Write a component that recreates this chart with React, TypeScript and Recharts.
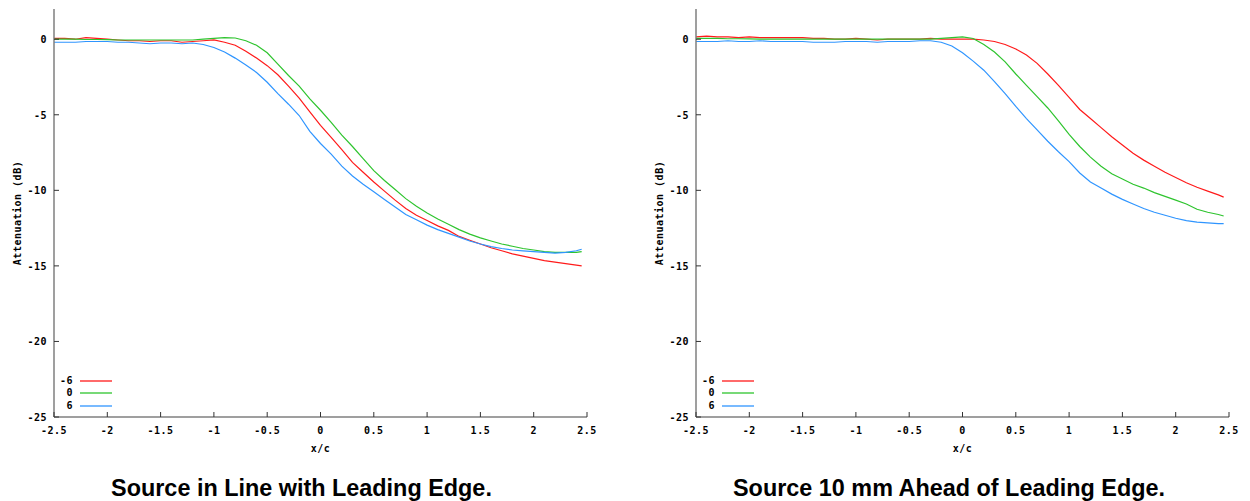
import { LineChart, Line, XAxis, YAxis, Legend, Label } from 'recharts';

// x/c positions shared by every curve
const xPos = [
  -2.5, -2.4, -2.3, -2.2, -2.1, -2.0, -1.9, -1.8, -1.7, -1.6,
  -1.5, -1.4, -1.3, -1.2, -1.1, -1.0, -0.9, -0.8, -0.7, -0.6,
  -0.5, -0.4, -0.3, -0.2, -0.1, 0.0, 0.1, 0.2, 0.3, 0.4,
  0.5, 0.6, 0.7, 0.8, 0.9, 1.0, 1.1, 1.2, 1.3, 1.4,
  1.5, 1.6, 1.7, 1.8, 1.9, 2.0, 2.1, 2.2, 2.3, 2.4, 2.45,
];

// Source in line with leading edge
const inLineM6 = [
  0.05, 0.05, 0.0, 0.1, 0.05, 0.0, -0.05, -0.1, -0.1, -0.15,
  -0.1, -0.1, -0.2, -0.15, -0.1, -0.05, -0.2, -0.4, -0.8, -1.25,
  -1.75, -2.35, -3.1, -3.9, -4.8, -5.7, -6.5, -7.3, -8.15, -8.8,
  -9.45, -10.05, -10.65, -11.2, -11.65, -12.0, -12.35, -12.65, -13.05, -13.3,
  -13.55, -13.8, -14.0, -14.2, -14.35, -14.5, -14.65, -14.75, -14.85, -14.95, -15.0,
];
const inLine0 = [
  0.0, 0.0, 0.0, -0.02, -0.02, -0.03, -0.05, -0.05, -0.05, -0.05,
  -0.05, -0.05, -0.05, -0.05, 0.0, 0.05, 0.1, 0.08, -0.1, -0.4,
  -0.9, -1.65, -2.4, -3.1, -3.95, -4.7, -5.5, -6.35, -7.1, -7.9,
  -8.7, -9.35, -9.95, -10.55, -11.05, -11.5, -11.9, -12.25, -12.6, -12.9,
  -13.15, -13.35, -13.55, -13.7, -13.85, -13.95, -14.05, -14.1, -14.1, -14.1, -14.05,
];
const inLine6 = [
  -0.2, -0.2, -0.2, -0.15, -0.15, -0.15, -0.2, -0.2, -0.25, -0.3,
  -0.25, -0.25, -0.3, -0.25, -0.35, -0.55, -0.85, -1.25, -1.7, -2.2,
  -2.85, -3.6, -4.3, -5.05, -6.1, -6.9, -7.6, -8.4, -9.05, -9.6,
  -10.1, -10.6, -11.1, -11.6, -11.95, -12.3, -12.6, -12.85, -13.1, -13.35,
  -13.55, -13.72, -13.85, -13.95, -14.0, -14.05, -14.1, -14.15, -14.1, -14.0, -13.9,
];

// Source 10 mm ahead of leading edge
const aheadM6 = [
  0.15, 0.2, 0.15, 0.15, 0.1, 0.15, 0.1, 0.1, 0.1, 0.1,
  0.1, 0.05, 0.05, 0.0, 0.0, 0.05, 0.0, -0.05, 0.0, 0.0,
  0.0, 0.0, 0.05, 0.0, 0.0, 0.0, 0.0, -0.05, -0.15, -0.35,
  -0.65, -1.05, -1.6, -2.3, -3.05, -3.85, -4.65, -5.25, -5.85, -6.45,
  -7.0, -7.55, -8.0, -8.4, -8.8, -9.15, -9.5, -9.8, -10.05, -10.3, -10.45,
];
const ahead0 = [
  0.05, 0.05, 0.05, 0.03, 0.03, 0.02, 0.0, 0.0, 0.0, 0.0,
  0.0, 0.0, 0.0, 0.0, 0.0, 0.0, 0.0, 0.0, 0.0, 0.0,
  0.0, 0.0, 0.0, 0.05, 0.1, 0.15, 0.05, -0.35, -0.85, -1.5,
  -2.3, -3.05, -3.8, -4.55, -5.4, -6.3, -7.1, -7.8, -8.4, -8.9,
  -9.25, -9.6, -9.85, -10.15, -10.4, -10.65, -10.9, -11.25, -11.45, -11.6, -11.7,
];
const ahead6 = [
  -0.15, -0.15, -0.15, -0.1, -0.15, -0.15, -0.1, -0.15, -0.15, -0.15,
  -0.15, -0.2, -0.2, -0.2, -0.15, -0.15, -0.15, -0.2, -0.15, -0.15,
  -0.15, -0.1, -0.1, -0.2, -0.45, -0.9, -1.45, -2.05, -2.8, -3.6,
  -4.45, -5.25, -6.0, -6.75, -7.45, -8.1, -8.85, -9.45, -9.85, -10.25,
  -10.6, -10.9, -11.2, -11.45, -11.65, -11.85, -12.0, -12.1, -12.15, -12.2, -12.2,
];

const xTicks = [-2.5, -2, -1.5, -1, -0.5, 0, 0.5, 1, 1.5, 2, 2.5];
const yTicks = [-25, -20, -15, -10, -5, 0];
const seriesNames = ['-6', '0', '6'];
const seriesColors = ['#ff1a1a', '#2ec42e', '#2f95ff'];

const MONO = "'DejaVu Sans Mono', monospace";
const tickText = { fontFamily: MONO, fontSize: 10, fontWeight: 700, fill: '#000', letterSpacing: 0.5 };
const frame = { stroke: '#7f7f7f', strokeWidth: 1.5 };

function BottomTick({ x, y, payload }: any) {
  return (
    <g>
      <line x1={x} x2={x} y1={y} y2={y - 5} stroke="#333" />
      <text x={x} y={y + 17} textAnchor="middle" style={tickText}>{payload.value}</text>
    </g>
  );
}

function TopTick({ x, y }: any) {
  return <line x1={x} x2={x} y1={y} y2={y + 5} stroke="#333" />;
}

function LeftTick({ x, y, payload }: any) {
  return (
    <g>
      <line x1={x} x2={x + 5} y1={y} y2={y} stroke="#333" />
      <text x={x - 7} y={y + 4} textAnchor="end" style={tickText}>{payload.value}</text>
    </g>
  );
}

function RightTick({ x, y }: any) {
  return <line x1={x} x2={x - 5} y1={y} y2={y} stroke="#333" />;
}

function XLabel(props: any) {
  const { x, y, width } = props.viewBox;
  return <text x={x + width / 2} y={y + 35} textAnchor="middle" style={tickText}>x/c</text>;
}

function YLabel(props: any) {
  const { x, y, height } = props.viewBox;
  const cx = x + 17;
  const cy = y + height / 2;
  return (
    <text x={cx} y={cy} transform={`rotate(-90 ${cx} ${cy})`} textAnchor="middle" dominantBaseline="central" style={tickText}>
      Attenuation (dB)
    </text>
  );
}

function LegendBox({ payload }: any) {
  const items = [...(payload || [])].sort((a: any, b: any) => seriesNames.indexOf(a.value) - seriesNames.indexOf(b.value));
  return (
    <div>
      {items.map((e: any) => (
        <div key={e.value} style={{ display: 'flex', alignItems: 'center', height: 12.3 }}>
          <span style={{ width: 15, textAlign: 'right', fontFamily: MONO, fontSize: 10, fontWeight: 700, lineHeight: '12px', letterSpacing: 0.5 }}>
            {e.value}
          </span>
          <svg width={39} height={4} style={{ display: 'block' }}>
            <line x1={7} x2={39} y1={2} y2={2} stroke={e.color} strokeWidth={1.3} />
          </svg>
        </div>
      ))}
    </div>
  );
}

function Panel({ left, title, titleWidth, m6, z0, p6 }: { left: number; title: string; titleWidth: number; m6: number[]; z0: number[]; p6: number[] }) {
  const data = xPos.map((x, i) => ({ x, m6: m6[i], z0: z0[i], p6: p6[i] }));
  const keys = ['m6', 'z0', 'p6'];
  return (
    <div style={{ position: 'absolute', left, top: 0, width: 616, height: 501 }}>
      <LineChart width={600} height={460} data={data} margin={{ top: 9, right: 13, bottom: 0, left: 0 }}>
        <XAxis xAxisId="b" dataKey="x" type="number" domain={[-2.5, 2.5]} ticks={xTicks} interval={0}
          tickSize={0} tickMargin={0} tickLine={false} tick={<BottomTick />} axisLine={frame} height={43}>
          <Label content={XLabel} />
        </XAxis>
        <XAxis xAxisId="t" orientation="top" dataKey="x" type="number" domain={[-2.5, 2.5]} ticks={xTicks} interval={0}
          tickSize={0} tickMargin={0} tickLine={false} tick={<TopTick />} axisLine={frame} height={0} />
        <YAxis yAxisId="l" type="number" domain={[-25, 2]} ticks={yTicks} interval={0}
          tickSize={0} tickMargin={0} tickLine={false} tick={<LeftTick />} axisLine={frame} width={54}>
          <Label content={YLabel} />
        </YAxis>
        <YAxis yAxisId="r" orientation="right" type="number" domain={[-25, 2]} ticks={yTicks} interval={0}
          tickSize={0} tickMargin={0} tickLine={false} tick={<RightTick />} axisLine={frame} width={0} />
        <Legend layout="vertical" align="center" verticalAlign="middle"
          wrapperStyle={{ left: 58, top: 375, width: 70 }} content={<LegendBox />} />
        {keys.map((k, i) => (
          <Line key={k} xAxisId="b" yAxisId="l" type="linear" dataKey={k} name={seriesNames[i]}
            stroke={seriesColors[i]} strokeWidth={1.2} dot={false} isAnimationActive={false} />
        ))}
      </LineChart>
      <div style={{ position: 'absolute', left: 0, top: 476, width: titleWidth, textAlign: 'center', whiteSpace: 'nowrap',
        fontFamily: "'Liberation Sans', Arial, sans-serif", fontWeight: 700, fontSize: 23.4, lineHeight: '24px' }}>
        {title}
      </div>
    </div>
  );
}

export default function App() {
  return (
    <div style={{ position: 'absolute', left: 0, top: 0, width: 1250, height: 501, background: '#fff' }}>
      <Panel left={0} titleWidth={603} title="Source in Line with Leading Edge." m6={inLineM6} z0={inLine0} p6={inLine6} />
      <Panel left={642} titleWidth={614} title="Source 10 mm Ahead of Leading Edge." m6={aheadM6} z0={ahead0} p6={ahead6} />
    </div>
  );
}
